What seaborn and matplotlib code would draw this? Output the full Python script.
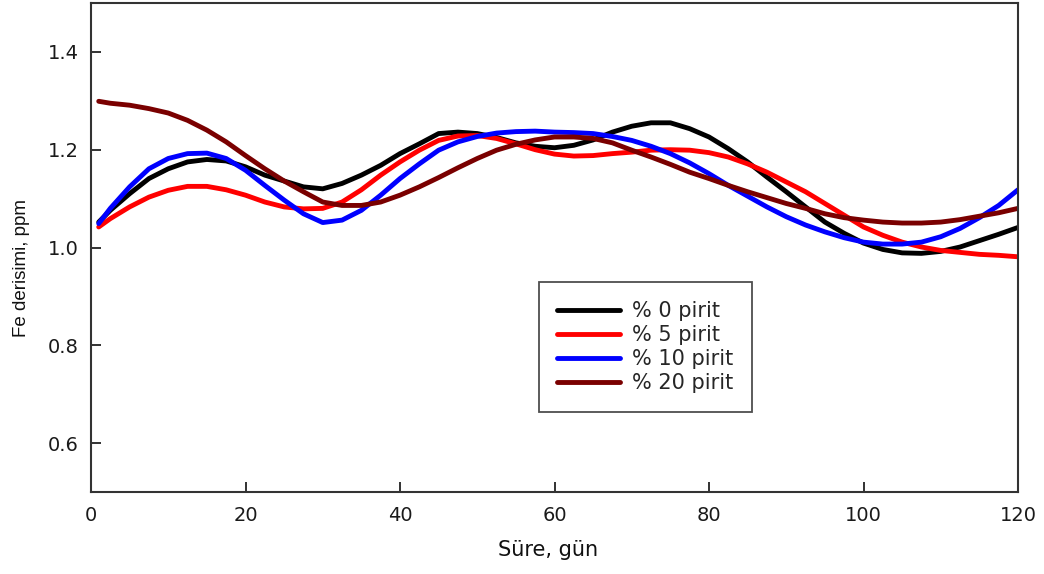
import matplotlib
matplotlib.use("Agg")
import matplotlib.pyplot as plt
import seaborn as sns
import pandas as pd

days = [1, 2.5, 5, 7.5, 10, 12.5, 15, 17.5, 20, 22.5, 25, 27.5, 30, 32.5, 35, 37.5, 40, 42.5, 45, 47.5,
        50, 52.5, 55, 57.5, 60, 62.5, 65, 67.5, 70, 72.5, 75, 77.5, 80, 82.5, 85, 87.5, 90, 92.5, 95,
        97.5, 100, 102.5, 105, 107.5, 110, 112.5, 115, 117.5, 120]

pirit_0 = [1.052, 1.076, 1.110, 1.141, 1.161, 1.175, 1.180, 1.177, 1.165, 1.148, 1.136, 1.124, 1.120,
           1.131, 1.148, 1.168, 1.192, 1.212, 1.233, 1.236, 1.233, 1.225, 1.214, 1.207, 1.204,
           1.209, 1.220, 1.236, 1.248, 1.255, 1.255, 1.243, 1.226, 1.202, 1.175, 1.144, 1.114, 1.083,
           1.052, 1.029, 1.009, 0.996, 0.989, 0.988, 0.992, 1.001, 1.014, 1.027, 1.041]
pirit_5 = [1.042, 1.059, 1.083, 1.103, 1.117, 1.125, 1.125, 1.118, 1.107, 1.093, 1.083, 1.079, 1.080,
           1.093, 1.118, 1.148, 1.175, 1.199, 1.219, 1.228, 1.229, 1.223, 1.212, 1.200, 1.191,
           1.187, 1.188, 1.192, 1.195, 1.199, 1.200, 1.199, 1.194, 1.185, 1.171, 1.154, 1.134, 1.114,
           1.090, 1.066, 1.042, 1.025, 1.011, 1.001, 0.994, 0.990, 0.986, 0.984, 0.981]
pirit_10 = [1.049, 1.080, 1.124, 1.161, 1.182, 1.192, 1.193, 1.182, 1.158, 1.127, 1.097, 1.069, 1.051,
            1.056, 1.076, 1.107, 1.141, 1.171, 1.199, 1.216, 1.227, 1.234, 1.237, 1.238, 1.236,
            1.235, 1.233, 1.227, 1.219, 1.207, 1.192, 1.173, 1.151, 1.127, 1.105, 1.083, 1.063, 1.046,
            1.032, 1.020, 1.011, 1.007, 1.007, 1.011, 1.022, 1.039, 1.061, 1.086, 1.118]
pirit_20 = [1.299, 1.295, 1.291, 1.284, 1.275, 1.260, 1.240, 1.216, 1.188, 1.161, 1.136, 1.114, 1.093,
            1.086, 1.086, 1.093, 1.107, 1.124, 1.143, 1.163, 1.182, 1.199, 1.211, 1.220, 1.226,
            1.226, 1.223, 1.214, 1.199, 1.185, 1.170, 1.154, 1.141, 1.127, 1.114, 1.102, 1.090, 1.080,
            1.069, 1.061, 1.056, 1.052, 1.050, 1.050, 1.052, 1.057, 1.064, 1.071, 1.080]

labels = ["% 0 pirit", "% 5 pirit", "% 10 pirit", "% 20 pirit"]
colors = ["#000000", "#ff0000", "#0000ff", "#7a0000"]

x_ticks = [0, 20, 40, 60, 80, 100, 120]
y_ticks = [0.6, 0.8, 1.0, 1.2, 1.4]

frames = []
for lab, vals in zip(labels, [pirit_0, pirit_5, pirit_10, pirit_20]):
    frames.append(pd.DataFrame({"day": days, "fe": vals, "series": lab}))
df = pd.concat(frames, ignore_index=True)

sns.set_theme(style="white")
plt.rcParams["font.family"] = ["DejaVu Sans"]

fig = plt.figure(figsize=(10.44, 5.74), dpi=100)
ax = fig.add_axes([91 / 1044, 1 - 492 / 574, 927 / 1044, 489 / 574])

sns.lineplot(data=df, x="day", y="fe", hue="series", hue_order=labels,
             palette=dict(zip(labels, colors)), linewidth=3.5, ax=ax, sort=False)

ax.set_xlim(0, 120)
ax.set_ylim(0.5, 1.5)
ax.set_xticks(x_ticks)
ax.set_xticklabels([str(t) for t in x_ticks])
ax.set_yticks(y_ticks)
ax.set_yticklabels([f"{t:.1f}" for t in y_ticks])

ax.tick_params(axis="both", direction="in", length=7, width=1.3, color="#222222",
               labelsize=14, labelcolor="#1a1a1a")
ax.tick_params(axis="y", pad=9, left=True, right=False)
ax.tick_params(axis="x", pad=10, bottom=True, top=False)

for s in ax.spines.values():
    s.set_visible(True)
    s.set_color("#333333")
    s.set_linewidth(1.5)

ax.set_xlabel("Süre, gün", fontsize=15, color="#111111")
ax.xaxis.set_label_coords(0.493, -0.098)
ax.set_ylabel("Fe derisimi, ppm", fontsize=13.5, color="#111111",
              family=["Liberation Sans", "DejaVu Sans"])
ax.yaxis.set_label_coords(-0.066, 0.458)

leg = ax.legend(loc="upper left", bbox_to_anchor=(0.483, 0.429), borderaxespad=0,
                prop={"size": 15}, handlelength=3.0, handletextpad=0.6, labelspacing=0.2,
                borderpad=0.9, frameon=True, fancybox=False, title=None)
leg.get_frame().set_edgecolor("#222222")
leg.get_frame().set_linewidth(1.3)
for line in leg.get_lines():
    line.set_linewidth(3.5)

fig.savefig("out.png", dpi=100)
